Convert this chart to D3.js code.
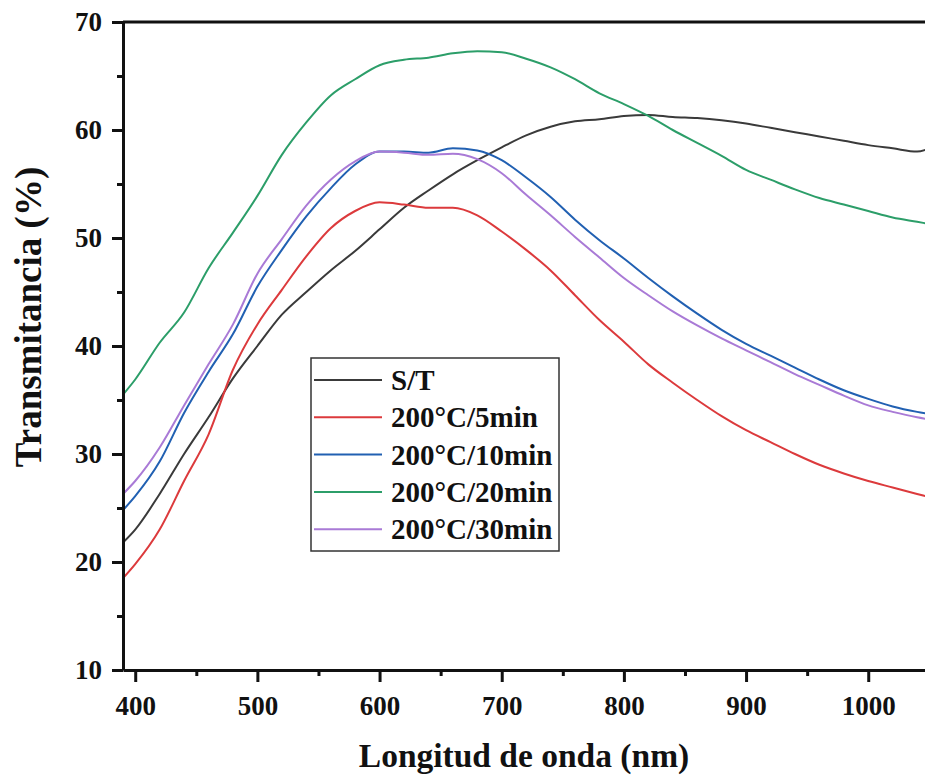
<!DOCTYPE html>
<html>
<head>
<meta charset="utf-8">
<script src="https://cdn.jsdelivr.net/npm/d3@7"></script>
<style>
  body { margin: 0; background: #fff; }
  svg text { font-family: "Liberation Serif", "Times New Roman", serif; font-weight: bold; fill: #111; }
</style>
</head>
<body>
<div class="graph"></div>
<script>
// wavelength grid (nm)
var wavelengths = [390, 400, 420, 440, 460, 480, 500, 520, 540, 560, 580, 600, 620, 640, 660, 680, 700,
  720, 740, 760, 780, 800, 820, 840, 860, 880, 900, 920, 940, 960, 980, 1000, 1020, 1040, 1050]

// transmittance (%)
var st = [21.8, 23.0, 26.3, 30.0, 33.4, 37.0, 40.0, 42.9, 45.0, 47.0, 48.8, 50.8, 52.8, 54.4, 55.9, 57.2, 58.4,
  59.5, 60.3, 60.8, 61.0, 61.3, 61.4, 61.2, 61.1, 60.9, 60.6, 60.2, 59.8, 59.4, 59.0, 58.6, 58.3, 58.0, 58.3]
var c5min = [18.5, 19.8, 23.0, 27.5, 31.8, 37.8, 42.0, 45.2, 48.3, 50.9, 52.5, 53.3, 53.1, 52.8, 52.8, 52.1, 50.6,
  48.9, 47.0, 44.7, 42.4, 40.4, 38.3, 36.6, 35.0, 33.5, 32.2, 31.1, 30.0, 29.0, 28.2, 27.5, 26.9, 26.3, 26.0]
var c10min = [24.8, 26.1, 29.3, 33.8, 37.6, 41.1, 45.5, 48.9, 52.0, 54.6, 56.8, 58.0, 58.0, 57.9, 58.3, 58.1, 57.2,
  55.6, 53.8, 51.7, 49.8, 48.1, 46.3, 44.6, 43.0, 41.5, 40.2, 39.1, 38.0, 36.9, 35.9, 35.1, 34.4, 33.9, 33.7]
var c20min = [35.5, 36.9, 40.3, 43.1, 47.2, 50.5, 53.9, 57.7, 60.7, 63.2, 64.7, 66.0, 66.5, 66.7, 67.1, 67.3, 67.2,
  66.6, 65.8, 64.7, 63.4, 62.4, 61.3, 60.0, 58.8, 57.6, 56.3, 55.4, 54.5, 53.7, 53.1, 52.5, 51.9, 51.5, 51.3]
var c30min = [26.3, 27.5, 30.6, 34.5, 38.3, 42.0, 46.7, 49.9, 53.0, 55.4, 57.1, 58.0, 57.9, 57.7, 57.8, 57.3, 56.0,
  54.0, 52.1, 50.1, 48.2, 46.3, 44.7, 43.2, 41.9, 40.7, 39.6, 38.5, 37.4, 36.4, 35.4, 34.5, 33.9, 33.4, 33.2]

var labels = ['S/T', '200°C/5min', '200°C/10min', '200°C/20min', '200°C/30min']
var colors = ['#3a3a3a', '#dc3a3c', '#2160b2', '#2c9e69', '#a97ad6']
var xTicks = [400, 500, 600, 700, 800, 900, 1000]
var yTicks = [10, 20, 30, 40, 50, 60, 70]

var series = [st, c5min, c10min, c20min, c30min].map(function(vals, i) {
  return { name: labels[i], color: colors[i], values: vals }
})

var width = 925, height = 776
var plotLeft = 123, plotTop = 22, plotBottom = 670

var x = d3.scaleLinear()
  .domain([390, 1050])
  .range([plotLeft, plotLeft + 660 * 1.2217])

var y = d3.scaleLinear()
  .domain([10, 70])
  .range([plotBottom, plotTop])

var svg = d3.select('.graph').append('svg')
  .attr('width', width)
  .attr('height', height)

var line = d3.line()
  .x(function(d, i) { return x(wavelengths[i]) })
  .y(function(d) { return y(d) })
  .curve(d3.curveMonotoneX)

var lines = svg.append('g')
for (let s of series) {
  lines.append('path')
    .datum(s.values)
    .attr('d', line)
    .attr('fill', 'none')
    .attr('stroke', s.color)
    .attr('stroke-width', 2)
}

// minor ticks
var xMinor = d3.range(450, 1051, 100)
var yMinor = d3.range(15, 70, 10)

svg.append('g')
  .attr('transform', `translate(0,${plotBottom})`)
  .call(d3.axisBottom(x).tickValues(xTicks).tickFormat(d3.format('d'))
    .tickSize(12).tickSizeOuter(0).tickPadding(14))
svg.append('g')
  .attr('transform', `translate(0,${plotBottom})`)
  .call(d3.axisBottom(x).tickValues(xMinor).tickSize(6).tickFormat(''))
  .call(function(g) { g.select('.domain').remove() })

svg.append('g')
  .attr('transform', `translate(${plotLeft},0)`)
  .call(d3.axisLeft(y).tickValues(yTicks).tickSize(11).tickSizeOuter(0).tickPadding(10))
svg.append('g')
  .attr('transform', `translate(${plotLeft},0)`)
  .call(d3.axisLeft(y).tickValues(yMinor).tickSize(6).tickFormat(''))
  .call(function(g) { g.select('.domain').remove() })

svg.selectAll('.domain, .tick line')
  .attr('stroke', '#111')
  .attr('stroke-width', 3)
svg.selectAll('.tick text')
  .attr('font-size', 27)
  .attr('font-family', '"Liberation Serif", serif')
  .attr('font-weight', 'bold')
  .attr('fill', '#111')

// top frame line
svg.append('line')
  .attr('x1', plotLeft).attr('x2', width + 10)
  .attr('y1', plotTop).attr('y2', plotTop)
  .attr('stroke', '#111')
  .attr('stroke-width', 3)

// axis titles
svg.append('text')
  .attr('x', 524)
  .attr('y', 767)
  .attr('text-anchor', 'middle')
  .attr('font-size', 33.5)
  .text('Longitud de onda (nm)')

svg.append('text')
  .attr('transform', 'translate(41,317) rotate(-90)')
  .attr('text-anchor', 'middle')
  .attr('font-size', 37)
  .text('Transmitancia (%)')

// legend
var legend = svg.append('g').attr('transform', 'translate(311,358)')
legend.append('rect')
  .attr('width', 248)
  .attr('height', 193)
  .attr('fill', 'none')
  .attr('stroke', '#333')
  .attr('stroke-width', 1.5)

var rows = legend.selectAll('g.row')
  .data(series)
  .join('g')
  .attr('class', 'row')
  .attr('transform', function(d, i) { return `translate(0,${22 + i * 37.3})` })
rows.append('line')
  .attr('x1', 3).attr('x2', 71)
  .attr('stroke', function(d) { return d.color })
  .attr('stroke-width', 2)
rows.append('text')
  .attr('x', 80)
  .attr('dy', '0.35em')
  .attr('font-size', 29)
  .text(function(d) { return d.name })
</script>
</body>
</html>
